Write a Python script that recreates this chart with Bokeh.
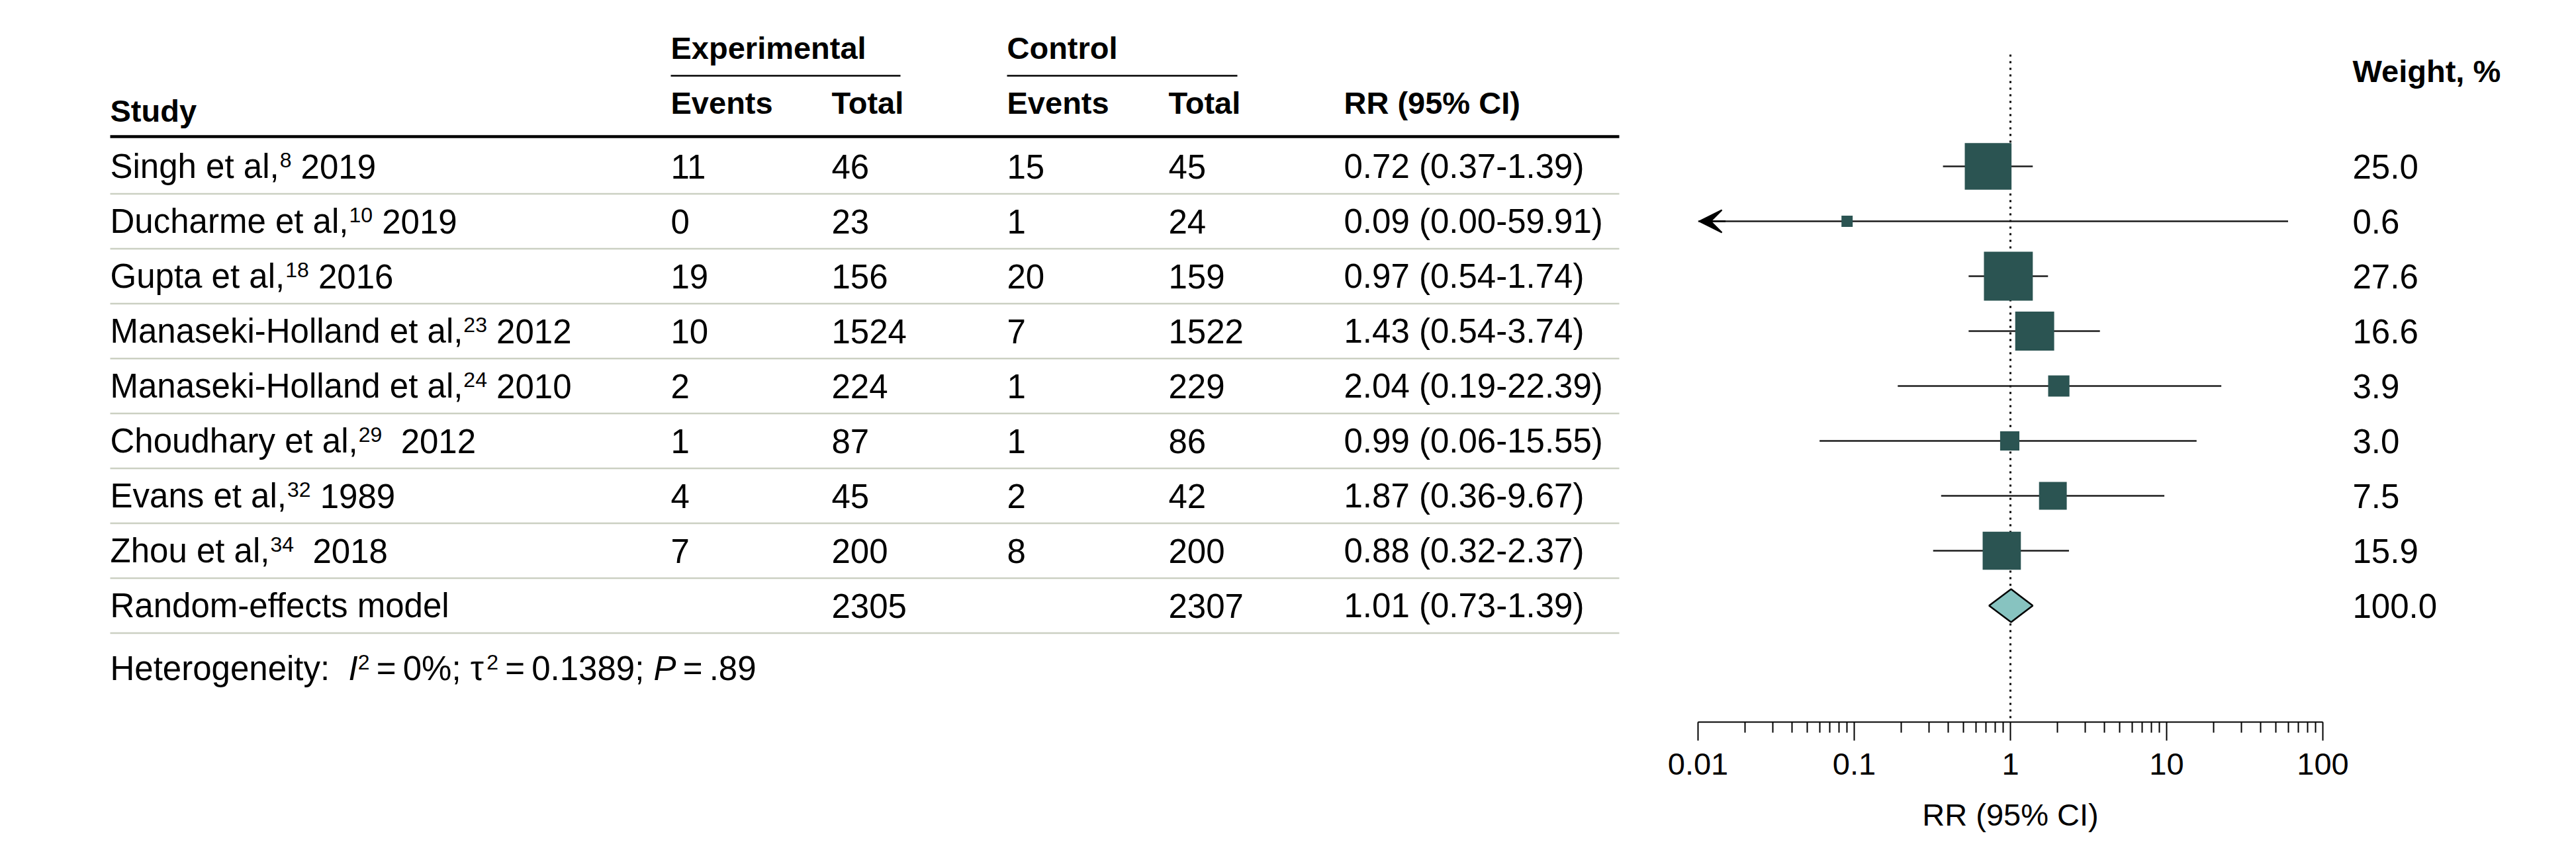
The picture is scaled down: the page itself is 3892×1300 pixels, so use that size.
import math
from bokeh.plotting import figure
from bokeh.layouts import row
from bokeh.models import (Range1d, ColumnDataSource, FixedTicker, CustomJSTickFormatter,
                          Arrow, VeeHead)
from bokeh.core.properties import value
from bokeh.embed import file_html
from bokeh.resources import INLINE

# ---------------- data ----------------
study_names = ["Singh et al,", "Ducharme et al,", "Gupta et al,", "Manaseki-Holland et al,",
               "Manaseki-Holland et al,", "Choudhary et al,", "Evans et al,", "Zhou et al,"]
study_refs = ["8", "10", "18", "23", "24", "29", "32", "34"]
study_years = [" 2019", " 2019", " 2016", " 2012", " 2010", "  2012", " 1989", "  2018"]
exp_events = [11, 0, 19, 10, 2, 1, 4, 7]
exp_total = [46, 23, 156, 1524, 224, 87, 45, 200]
ctrl_events = [15, 1, 20, 7, 1, 1, 2, 8]
ctrl_total = [45, 24, 159, 1522, 229, 86, 42, 200]
rr = [0.72, 0.09, 0.97, 1.43, 2.04, 0.99, 1.87, 0.88]
rr_lo = [0.37, 0.00, 0.54, 0.54, 0.19, 0.06, 0.36, 0.32]
rr_hi = [1.39, 59.91, 1.74, 3.74, 22.39, 15.55, 9.67, 2.37]
weights = [25.0, 0.6, 27.6, 16.6, 3.9, 3.0, 7.5, 15.9]

pooled_label = "Random-effects model"
pooled_exp_total = 2305
pooled_ctrl_total = 2307
pooled_rr = 1.01
pooled_lo = 0.73
pooled_hi = 1.39
pooled_weight = 100.0

het_i2 = "0%"
het_tau2 = "0.1389"
het_p = ".89"

axis_ticks = [0.01, 0.1, 1, 10, 100]
axis_title = "RR (95% CI)"

# ---------------- styling ----------------
FONT = "Liberation Sans"
ROW_PX = 51
SUP_PX = 32
HEAD_FS = "47px"
BOX = "#2b5452"
DIAMOND = "#87c3c0"
SEP = "#cbd0c2"

H = 1284
ROW0, ROWH = 251, 83          # page y of first row centre, row pitch
AXIS_Y = 1091                 # page y of the x axis line (bottom of plotting frames)
BOTTOM = H - AXIS_Y
SUP_RAISE = 0.11              # superscript raise, in rows

# Arial / Liberation Sans advance widths (1/1000 em) for positioning rich-text runs
_W = {' ': 278, ',': 278, '-': 333, '.': 278, ':': 278, ';': 278, '%': 889, '=': 584,
      '(': 333, ')': 333, '\u2009': 200, '\u03c4': 480,
      'a': 556, 'b': 556, 'c': 500, 'd': 556, 'e': 556, 'f': 278, 'g': 556, 'h': 556,
      'i': 222, 'j': 222, 'k': 500, 'l': 222, 'm': 833, 'n': 556, 'o': 556, 'p': 556,
      'q': 556, 'r': 333, 's': 500, 't': 278, 'u': 556, 'v': 500, 'w': 722, 'x': 500,
      'y': 500, 'z': 500, 'A': 667, 'B': 667, 'C': 722, 'D': 722, 'E': 667, 'F': 611,
      'G': 778, 'H': 722, 'I': 278, 'J': 500, 'K': 667, 'L': 556, 'M': 833, 'N': 722,
      'O': 778, 'P': 667, 'Q': 778, 'R': 722, 'S': 667, 'T': 611, 'U': 722, 'V': 667,
      'W': 944, 'X': 667, 'Y': 667, 'Z': 611}


def tw(s, px):
    return sum(_W.get(c, 556) for c in s) * px / 1000.0


def r_of(y_page):
    return (y_page - ROW0) / ROWH


n = len(study_names)
rows = list(range(n))
pooled_row = n
all_rows = rows + [pooled_row]

yr = Range1d(r_of(AXIS_Y), r_of(0))


def clean(p):
    p.grid.visible = False
    p.outline_line_color = None
    p.background_fill_color = "white"
    p.border_fill_color = "white"


def txt(p, x, y, t, size=f"{ROW_PX}px", style="normal", align="left"):
    src = ColumnDataSource(dict(x=x, y=y, t=t))
    p.text(x="x", y="y", text="t", source=src, text_font=value(FONT),
           text_font_size=size, text_font_style=style, text_align=align,
           text_baseline="middle", text_color="black")


def rich(p, x0, y, runs):
    """runs: (text, style, is_sup); spaces become offsets (SVG collapses them)."""
    x = x0
    for t, style, sup in runs:
        px = SUP_PX if sup else ROW_PX
        lead = len(t) - len(t.lstrip(' '))
        core = t.strip(' ')
        if core:
            txt(p, [x + tw(' ' * lead, px)], [y - SUP_RAISE if sup else y], [core],
                f"{px}px", style)
        x += tw(t, px)


# ---------------- table ----------------
TAB_W = 2497
tab = figure(width=TAB_W, height=H, x_range=Range1d(0, TAB_W), y_range=yr,
             min_border=0, min_border_bottom=BOTTOM, output_backend="svg",
             toolbar_location=None, x_axis_location=None, y_axis_location=None)
clean(tab)

COL_STUDY, COL_EE, COL_ET, COL_CE, COL_CT, COL_RR = 166, 1013, 1256, 1521, 1765, 2030
TABLE_RIGHT = 2446

# headers
txt(tab, [COL_EE, COL_CE], [r_of(72)] * 2, ["Experimental", "Control"], HEAD_FS, "bold")
tab.segment(x0=[COL_EE, COL_CE], x1=[1360, 1869], y0=[r_of(114)] * 2, y1=[r_of(114)] * 2,
            line_color="black", line_width=2.5)
txt(tab, [COL_STUDY], [r_of(167)], ["Study"], HEAD_FS, "bold")
txt(tab, [COL_EE, COL_ET, COL_CE, COL_CT, COL_RR], [r_of(155)] * 5,
    ["Events", "Total", "Events", "Total", "RR (95% CI)"], HEAD_FS, "bold")
tab.segment(x0=[COL_STUDY], x1=[TABLE_RIGHT], y0=[r_of(206)], y1=[r_of(206)],
            line_color="black", line_width=4.5)

# study labels with superscript reference numbers
x_sup = [COL_STUDY + tw(s, ROW_PX) + 1 for s in study_names]
x_year = [xs + tw(rf, SUP_PX) + tw(' ' * (len(y) - len(y.lstrip(' '))), ROW_PX)
          for xs, rf, y in zip(x_sup, study_refs, study_years)]
txt(tab, [COL_STUDY] * (n + 1), all_rows, study_names + [pooled_label])
txt(tab, x_sup, [r - SUP_RAISE for r in rows], study_refs, f"{SUP_PX}px")
txt(tab, x_year, rows, [y.strip() for y in study_years])

txt(tab, [COL_EE] * n, rows, [str(v) for v in exp_events])
txt(tab, [COL_ET] * (n + 1), all_rows, [str(v) for v in exp_total] + [str(pooled_exp_total)])
txt(tab, [COL_CE] * n, rows, [str(v) for v in ctrl_events])
txt(tab, [COL_CT] * (n + 1), all_rows, [str(v) for v in ctrl_total] + [str(pooled_ctrl_total)])
rr_txt = [f"{a:.2f} ({b:.2f}-{c:.2f})" for a, b, c in zip(rr, rr_lo, rr_hi)]
rr_txt.append(f"{pooled_rr:.2f} ({pooled_lo:.2f}-{pooled_hi:.2f})")
txt(tab, [COL_RR] * (n + 1), all_rows, rr_txt)

# separators
sep_y = [r + 0.5 for r in all_rows]
tab.segment(x0=[COL_STUDY] * len(sep_y), x1=[TABLE_RIGHT] * len(sep_y), y0=sep_y, y1=sep_y,
            line_color=SEP, line_width=2.5)

# heterogeneity line (italic I and P, superscript 2)
TS = "\u2009"
rich(tab, COL_STUDY, r_of(1010), [
    ("Heterogeneity:  ", "normal", False),
    ("I", "italic", False),
    ("2", "normal", True),
    (f"{TS}={TS}{het_i2}; \u03c4", "normal", False),
    ("2", "normal", True),
    (f"{TS}={TS}{het_tau2}; ", "normal", False),
    ("P", "italic", False),
    (f"{TS}={TS}{het_p}", "normal", False),
])

# ---------------- forest ----------------
X001, X100 = 2565, 3509       # page x of the axis ends
FP_L, FP_R = X001 - TAB_W, 40
FP_W = FP_L + (X100 - X001) + FP_R
fp = figure(width=FP_W, height=H, x_axis_type="log", x_range=Range1d(0.01, 100),
            y_range=yr, min_border=0, min_border_left=FP_L, min_border_right=FP_R,
            min_border_bottom=BOTTOM, output_backend="svg",
            toolbar_location=None, y_axis_location=None)
clean(fp)

# null line
fp.segment(x0=[1], x1=[1], y0=[r_of(82)], y1=[r_of(AXIS_Y)], line_color="black",
           line_width=3, line_dash="3 7")

xmin, xmax = axis_ticks[0], axis_ticks[-1]
lo_draw = [max(v, xmin) for v in rr_lo]
hi_draw = [min(v, xmax) for v in rr_hi]
fp.segment(x0=lo_draw, x1=hi_draw, y0=rows, y1=rows, line_color="#1c1c1c", line_width=2.4)
for i in rows:
    if rr_lo[i] < xmin:
        fp.add_layout(Arrow(x_start=xmin * 1.5, y_start=i, x_end=xmin * 1.02, y_end=i,
                            line_color="black", line_width=2.4,
                            end=VeeHead(size=34, fill_color="black", line_color="black",
                                        line_width=2)))
    if rr_hi[i] > xmax:
        fp.add_layout(Arrow(x_start=xmax / 1.5, y_start=i, x_end=xmax / 1.02, y_end=i,
                            line_color="black", line_width=2.4,
                            end=VeeHead(size=34, fill_color="black", line_color="black",
                                        line_width=2)))

sizes = [12.7 * math.sqrt(w) + 7.1 for w in weights]
fp.scatter(x=rr, y=rows, marker="square", size=sizes, fill_color=BOX, line_color=None)

dh = 0.30
fp.patch(x=[pooled_lo, pooled_rr, pooled_hi, pooled_rr],
         y=[pooled_row, pooled_row - dh, pooled_row, pooled_row + dh],
         fill_color=DIAMOND, line_color="black", line_width=2.5)

ax = fp.xaxis[0]
minor = [m * t for t in axis_ticks[:-1] for m in range(2, 10)]
ax.ticker = FixedTicker(ticks=axis_ticks, minor_ticks=minor)
ax.formatter = CustomJSTickFormatter(code="return String(tick);")
ax.axis_line_color = "black"
ax.axis_line_width = 2
ax.major_tick_line_color = "black"
ax.major_tick_line_width = 2
ax.minor_tick_line_color = "black"
ax.minor_tick_line_width = 2
ax.major_tick_in = 0
ax.major_tick_out = 28
ax.minor_tick_in = 0
ax.minor_tick_out = 16
ax.major_label_standoff = 19
ax.major_label_text_font = FONT
ax.major_label_text_font_size = "47px"
ax.major_label_text_color = "black"
ax.axis_label = axis_title
ax.axis_label_text_font = FONT
ax.axis_label_text_font_size = "47px"
ax.axis_label_text_font_style = "normal"
ax.axis_label_text_color = "black"
ax.axis_label_standoff = 31

# ---------------- weights ----------------
WF_X0 = X100 + FP_R
WF_W = 3876 - WF_X0
wf = figure(width=WF_W, height=H, x_range=Range1d(WF_X0, WF_X0 + WF_W), y_range=yr,
            min_border=0, min_border_bottom=BOTTOM, output_backend="svg",
            toolbar_location=None, x_axis_location=None, y_axis_location=None)
clean(wf)
COL_W = 3554
txt(wf, [COL_W], [r_of(107)], ["Weight, %"], HEAD_FS, "bold")
txt(wf, [COL_W] * (n + 1), all_rows, [f"{w:.1f}" for w in weights] + [f"{pooled_weight:.1f}"])

layout = row(tab, fp, wf, spacing=0)
open("out.html", "w").write(file_html(layout, INLINE))
